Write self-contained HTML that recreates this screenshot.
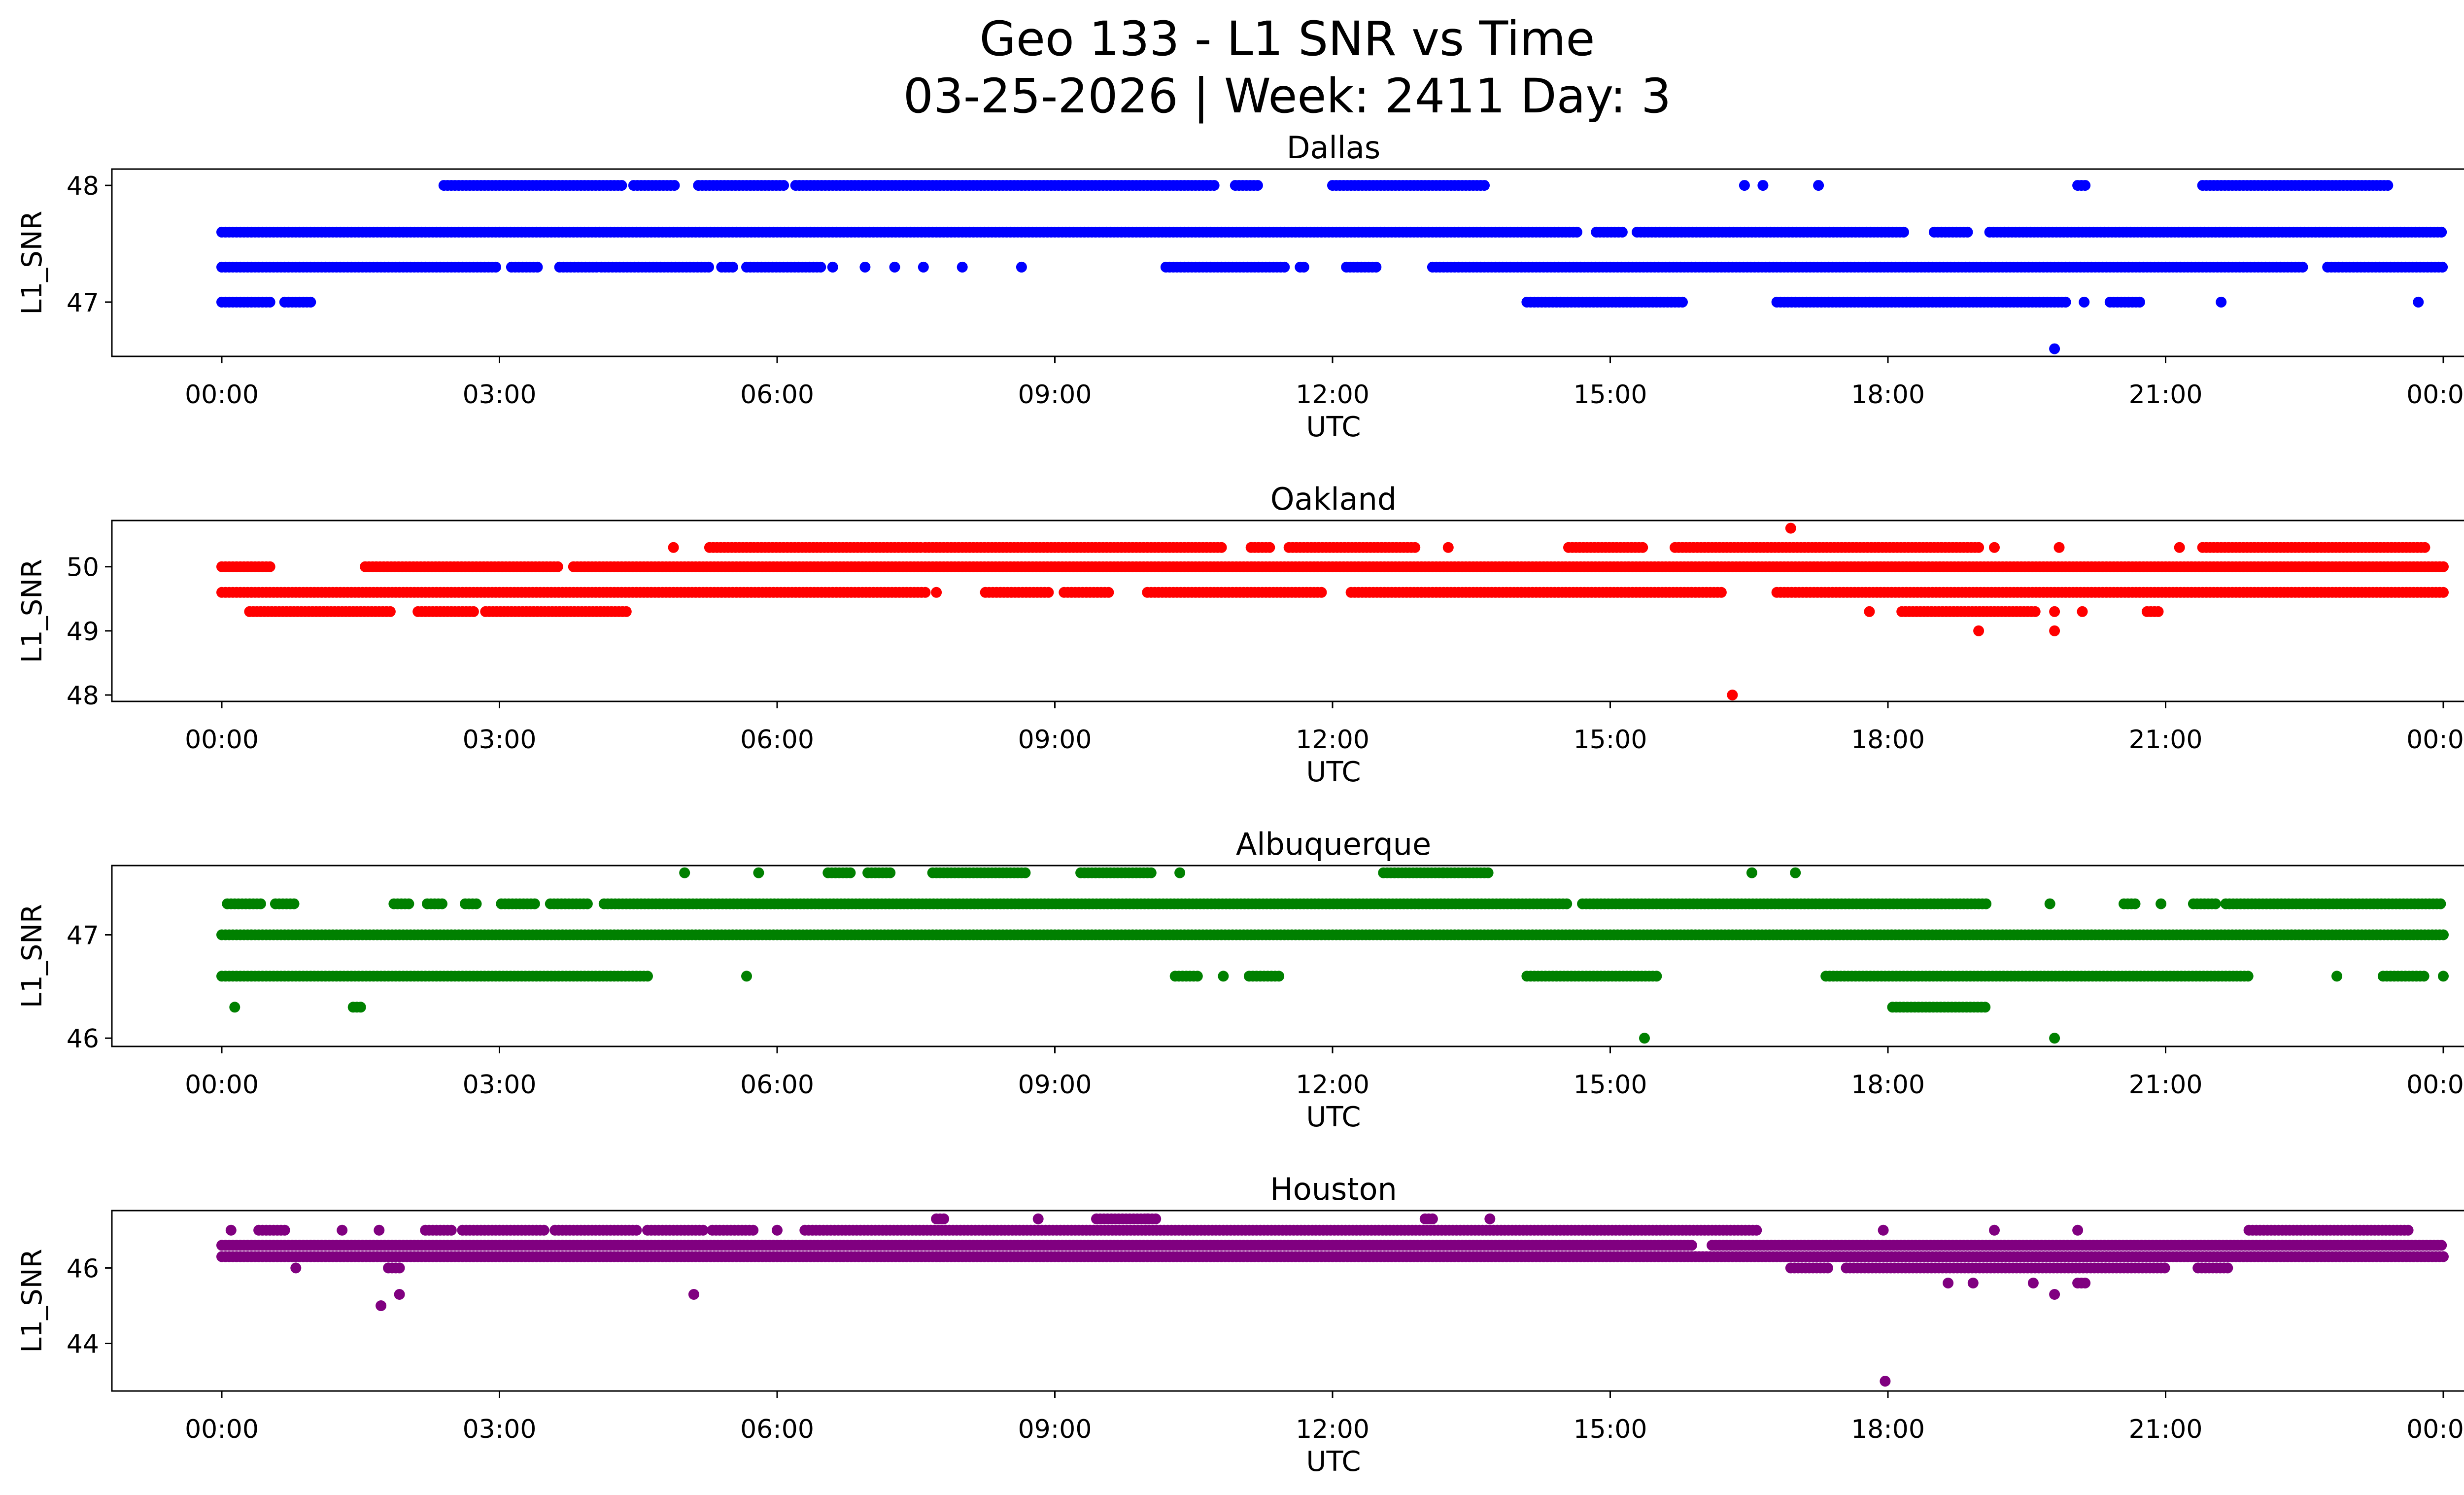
<!DOCTYPE html>
<html><head><meta charset="utf-8"><style>
html,body{margin:0;padding:0;background:#fff;overflow:hidden;}
svg{display:block;font-family:"DejaVu Sans","Liberation Sans",sans-serif;}
</style></head><body>
<svg id="chart" width="5225" height="3033" viewBox="0 0 5225 3033" xmlns="http://www.w3.org/2000/svg">
<text x="2612" y="112" text-anchor="middle" font-size="96">Geo 133 - L1 SNR vs Time</text>
<text x="2612" y="228" text-anchor="middle" font-size="96">03-25-2026 | Week: 2411 Day: 3</text>
</svg>
<script>
const tickLabels = ["00:00","03:00","06:00","09:00","12:00","15:00","18:00","21:00","00:00"];
const tickHours = [0,3,6,9,12,15,18,21,24];
const stationNames = ["Dallas","Oakland","Albuquerque","Houston"];
const stationColors = ["#0000ff","#ff0000","#008000","#800080"];
const yTicks = [[47,48],[48,49,50],[46,47],[44,46]];
const yLims = [[46.535,48.14],[47.9,50.72],[45.92,47.67],[42.74,47.52]];

const dallasData = [
 [48.0,[[2.4,4.35],[4.45,4.9],[5.15,6.1],[6.2,10.73],[10.95,11.2],[12.0,13.65],[16.45,16.45],[16.65,16.65],[17.25,17.25],[20.05,20.15],[21.4,23.4]]],
 [47.6,[[0,14.64],[14.85,15.16],[15.29,18.18],[18.5,18.89],[19.1,24]]],
 [47.3,[[0,2.96],[3.13,3.42],[3.65,4.05],[4.1,5.27],[5.4,5.55],[5.67,6.5],[6.6,6.6],[6.95,6.95],[7.27,7.27],[7.58,7.58],[8.0,8.0],[8.64,8.64],[10.2,11.5],[11.65,11.7],[12.15,12.5],[13.08,22.5],[22.75,24]]],
 [47.0,[[0,0.55],[0.68,0.98],[14.1,15.8],[16.8,19.95],[20.12,20.12],[20.4,20.75],[21.6,21.6],[23.73,23.73]]],
 [46.6,[[19.8,19.8]]]
];
const oaklandData = [
 [50.6,[[16.95,16.95]]],
 [50.3,[[4.88,4.88],[5.27,7.55],[7.6,10.82],[11.12,11.35],[11.53,12.9],[13.25,13.25],[14.55,15.35],[15.7,19.0],[19.15,19.15],[19.85,19.85],[21.15,21.15],[21.4,23.8]]],
 [50.0,[[0,0.55],[1.55,3.65],[3.8,24]]],
 [49.6,[[0,7.6],[7.72,7.72],[8.25,8.95],[9.1,9.6],[10.0,11.9],[12.2,16.2],[16.8,24]]],
 [49.3,[[0.3,1.85],[2.12,2.75],[2.85,4.4],[17.8,17.8],[18.15,19.6],[19.8,19.8],[20.1,20.1],[20.8,20.95]]],
 [49.0,[[18.98,18.98],[19.8,19.8]]],
 [48.0,[[16.32,16.32]]]
];
const albqData = [
 [47.6,[[5.0,5.0],[5.8,5.8],[6.55,6.8],[6.98,7.25],[7.68,8.7],[9.28,10.05],[10.35,10.35],[12.55,13.2],[13.2,13.7],[16.53,16.53],[17.0,17.0]]],
 [47.3,[[0.06,0.42],[0.58,0.78],[1.86,2.05],[2.22,2.4],[2.63,2.75],[3.02,3.38],[3.55,3.95],[4.13,14.55],[14.7,19.07],[19.75,19.75],[20.55,20.7],[20.95,20.95],[21.3,21.55],[21.65,24]]],
 [47.0,[[0,24]]],
 [46.6,[[0,4.6],[5.67,5.67],[10.3,10.55],[10.82,10.82],[11.1,11.45],[14.1,15.5],[17.33,21.9],[22.85,22.85],[23.35,23.8],[24,24]]],
 [46.3,[[0.14,0.14],[1.42,1.52],[18.05,19.07]]],
 [46.0,[[15.37,15.37],[19.8,19.8]]]
];
const houstonData = [
 [47.3,[[7.72,7.8],[8.82,8.82],[9.45,10.1],[10.0,10.0],[13.0,13.1],[13.7,13.7]]],
 [47.0,[[0.1,0.1],[0.4,0.7],[1.3,1.3],[1.7,1.7],[2.2,2.5],[2.6,3.5],[3.6,4.5],[4.6,5.2],[5.3,5.75],[6.0,6.0],[6.3,16.6],[17.95,17.95],[19.15,19.15],[20.05,20.05],[21.9,23.65]]],
 [46.6,[[0,15.9],[16.1,24]]],
 [46.3,[[0,24]]],
 [46.0,[[0.8,0.8],[1.8,1.95],[16.95,17.35],[17.55,21.0],[21.35,21.7]]],
 [45.6,[[18.65,18.65],[18.92,18.92],[19.57,19.57],[20.05,20.15]]],
 [45.3,[[1.92,1.92],[5.1,5.1],[19.8,19.8]]],
 [45.0,[[1.72,1.72]]],
 [43.0,[[17.97,17.97]]]
];
const allData = [dallasData, oaklandData, albqData, houstonData];

const NS = "http://www.w3.org/2000/svg";
const svg = document.getElementById("chart");
const L = 227, R = 5185, X0 = 450, X24 = 4958;
const tops = [343,1056,1756,2456], bottoms = [723,1423,2123,2822];
function xScale(h){ return X0 + (X24 - X0) * h / 24; }
function mk(tag, attrs){ const e = document.createElementNS(NS, tag); for (const k in attrs) e.setAttribute(k, attrs[k]); return e; }

for (let p = 0; p < 4; p++) {
  const top = tops[p], bot = bottoms[p], lim = yLims[p];
  const yScale = v => bot - (bot - top) * (v - lim[0]) / (lim[1] - lim[0]);
  const g = mk("g", {});
  
  
  svg.appendChild(g);
  const t = mk("text", {x: (L + R) / 2, y: top - 22, "text-anchor": "middle", "font-size": 62});
  t.textContent = stationNames[p];
  
  
  g.appendChild(t);
  const pg = mk("g", {fill: stationColors[p]});
  
  
  g.appendChild(pg);
  for (const [lvl, segs] of allData[p]) {
    const cy = yScale(lvl);
    for (const [a, b] of segs) {
      for (let h = a; h <= b + 1e-9; h += 0.04) {
        const c = mk("circle", {cx: xScale(h).toFixed(1), cy: cy.toFixed(1), r: 11});
        pg.appendChild(c);
      }
    }
  }
  const fr = mk("rect", {x: L, y: top, width: R - L, height: bot - top, fill: "none", stroke: "#000", "stroke-width": 3});
  
  
  g.appendChild(fr);
  for (let i = 0; i < tickHours.length; i++) {
    const x = xScale(tickHours[i]);
    g.appendChild(mk("line", {x1: x, x2: x, y1: bot, y2: bot + 14, stroke: "#000", "stroke-width": 3}));
    const tl = mk("text", {x: x, y: bot + 95, "text-anchor": "middle", "font-size": 52});
    tl.textContent = tickLabels[i];
    
    
    g.appendChild(tl);
  }
  const xl = mk("text", {x: (L + R) / 2, y: bot + 162, "text-anchor": "middle", "font-size": 56});
  xl.textContent = "UTC";
  
  
  g.appendChild(xl);
  for (const v of yTicks[p]) {
    const y = yScale(v);
    g.appendChild(mk("line", {x1: L - 14, x2: L, y1: y, y2: y, stroke: "#000", "stroke-width": 3}));
    const yl = mk("text", {x: L - 26, y: y + 19, "text-anchor": "end", "font-size": 52});
    yl.textContent = v;
    
    
    g.appendChild(yl);
  }
  const ym = (top + bot) / 2;
  const yt = mk("text", {x: 84, y: ym, "text-anchor": "middle", "font-size": 56, transform: "rotate(-90 84 " + ym + ")"});
  yt.textContent = "L1_SNR";
  
  
  g.appendChild(yt);
}
</script>
</body></html>
